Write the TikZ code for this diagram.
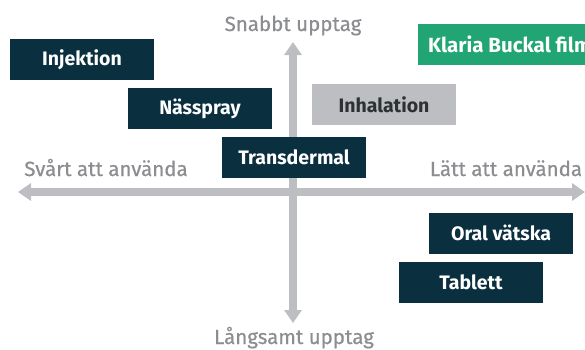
\documentclass[tikz,border=0pt]{standalone}
\usepackage{fontspec}
\setmainfont{Fira Sans}
\usepackage{xcolor}
\usepackage{tikz}
\usetikzlibrary{arrows.meta,positioning}
\definecolor{navy}{HTML}{0A2F3F}
\definecolor{klaria}{HTML}{22A574}
\definecolor{axisgray}{HTML}{BDBEC1}
\definecolor{labelgray}{HTML}{8C8D90}
\definecolor{inktext}{HTML}{2E3133}
\newfontfamily\labelfont[FakeBold=0.6]{Fira Sans}
\tikzset{
  axis/.style={{Triangle[length=13pt,width=17pt]}-{Triangle[length=13pt,width=17pt]},
    line width=8pt,draw=axisgray},
  box/.style={rectangle,fill=navy,text=white,minimum width=144pt,minimum height=41pt,
    inner sep=0pt,font=\fontsize{19.5}{21}\selectfont\bfseries},
  graybox/.style={box,fill=axisgray,text=inktext},
  greenbox/.style={box,fill=klaria,minimum width=0pt,inner xsep=10pt,anchor=west,
    font=\fontsize{20.5}{22}\selectfont\bfseries},
  axislabel/.style={text=labelgray,anchor=base,inner sep=0pt,
    font=\labelfont\fontsize{20.5}{22}\selectfont}
}
\begin{document}
\begin{tikzpicture}[x=1pt,y=-1pt]
  \useasboundingbox (0,0) rectangle (585,349);
  % axes
  \coordinate (left) at (18,192);
  \coordinate (right) at (585,192);
  \coordinate (top) at (293,42);
  \coordinate (bottom) at (293,323);
  \draw[axis] (left)--(right);
  \draw[axis] (top)--(bottom);
  % axis labels
  \node[axislabel] (fast) at (293,31) {Snabbt upptag};
  \node[axislabel] (slow) at (294,344) {Långsamt upptag};
  \node[axislabel] (hard) at (106,176) {Svårt att använda};
  \node[axislabel] (easy) at (506,176) {Lätt att använda};
  % forms
  \node[box] (inj) at (82,59.5) {Injektion};
  \node[box] (nasal) at (200,108.5) {Nässpray};
  \node[box] (trans) at (294,157.5) {Transdermal};
  \node[graybox] (inhal) at (384,104.5) {Inhalation};
  \node[greenbox] (klaria) at (418,44) {Klaria Buckal film};
  \node[box] (oral) at (501,233) {Oral vätska};
  \node[box] (tab) at (471,282) {Tablett};
\end{tikzpicture}
\end{document}
